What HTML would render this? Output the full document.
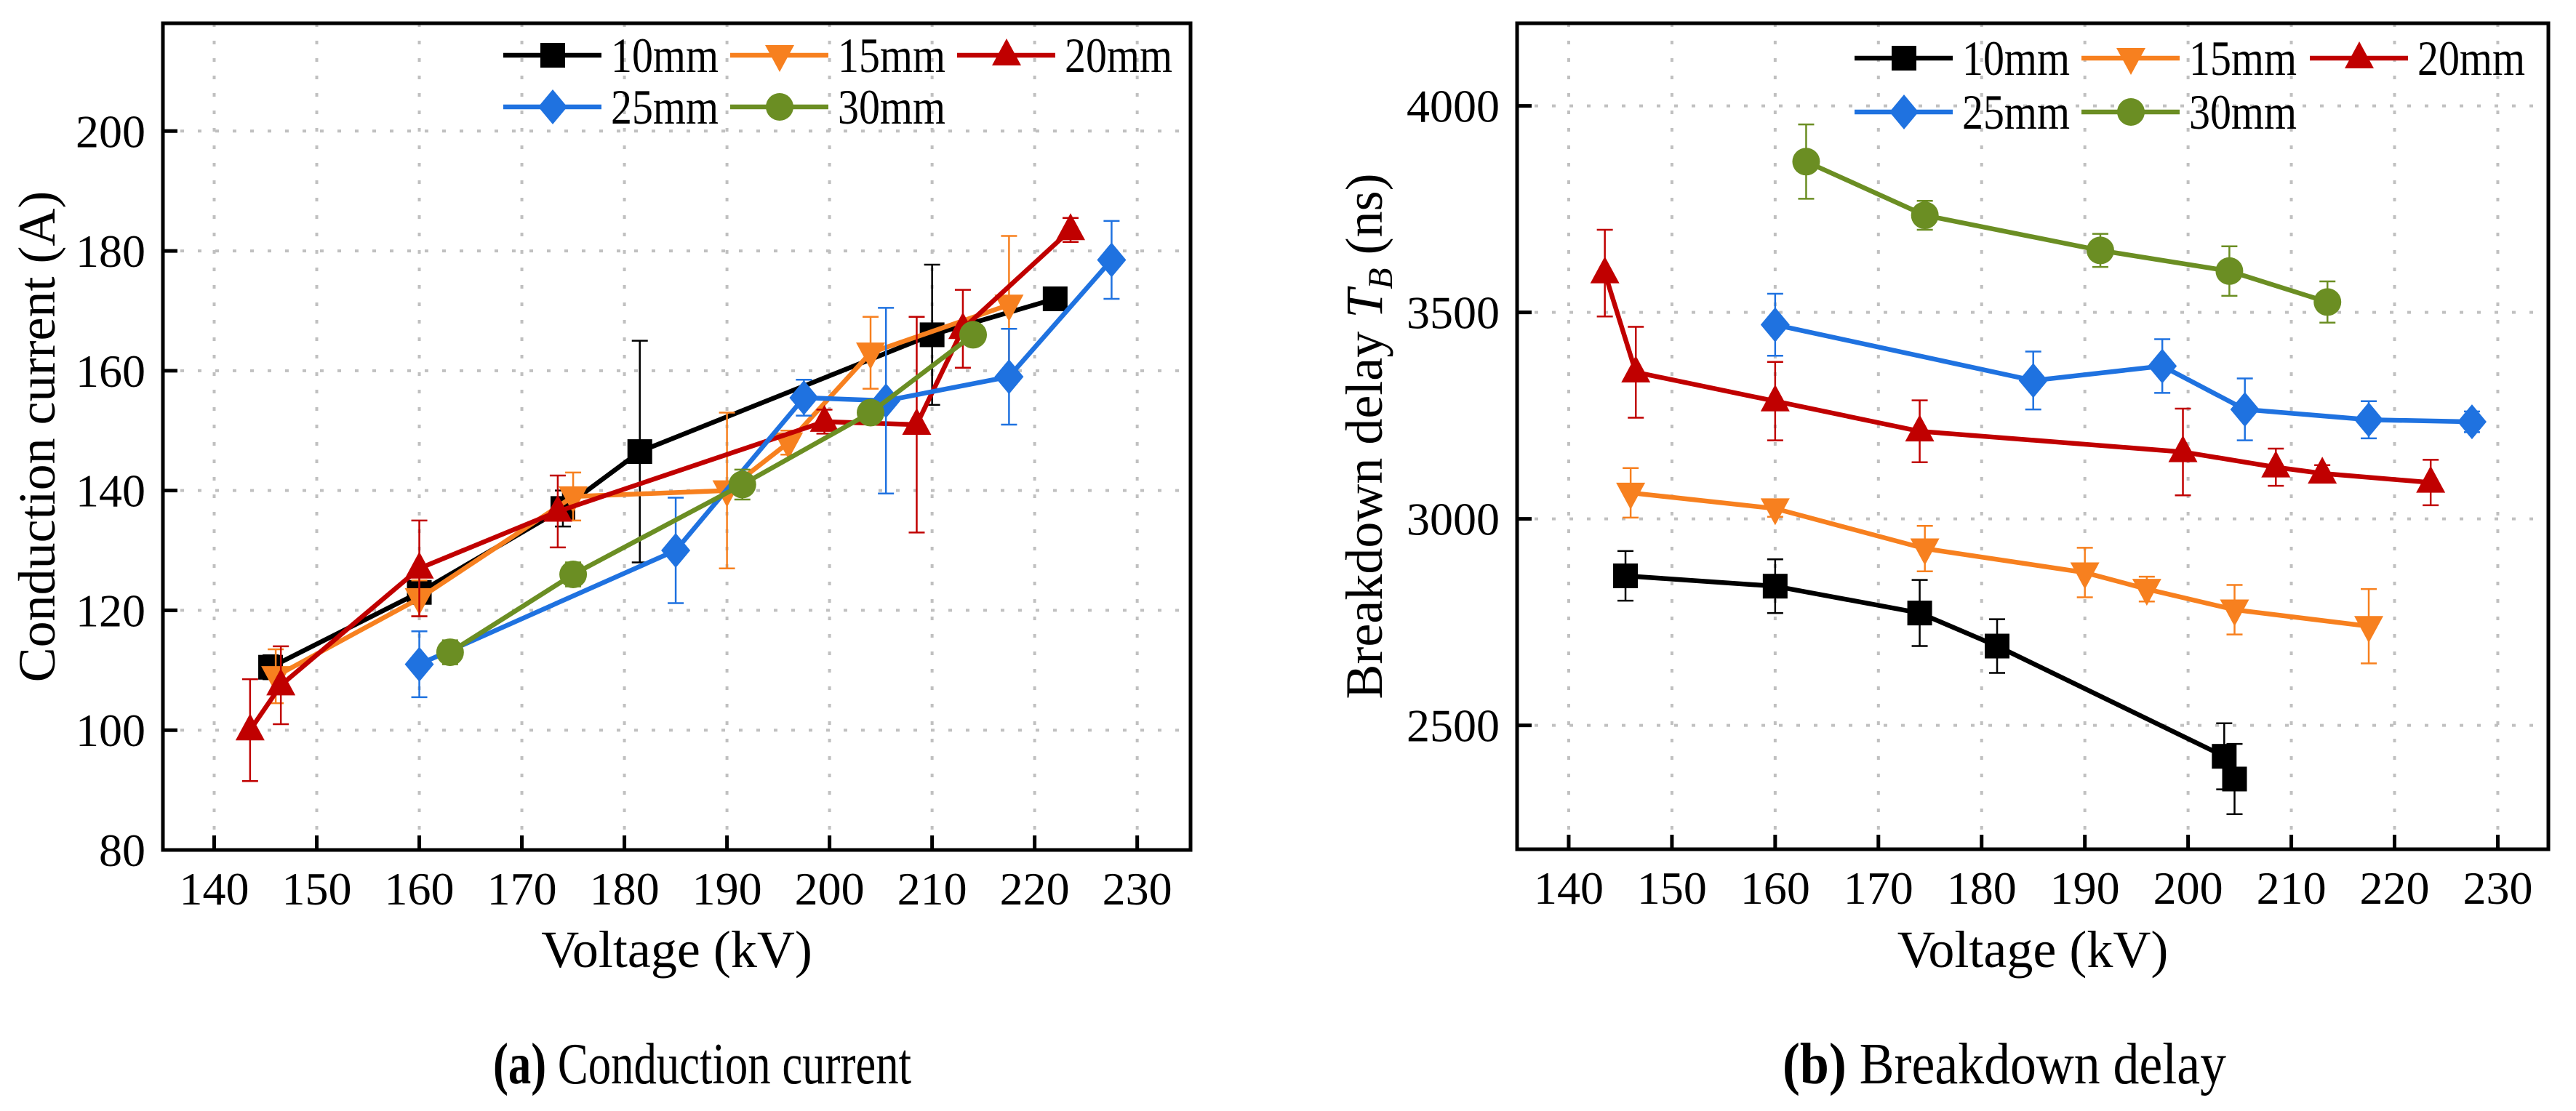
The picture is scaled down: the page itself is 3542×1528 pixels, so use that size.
<!DOCTYPE html>
<html><head><meta charset="utf-8"><style>
html,body{margin:0;padding:0;background:#fff;}
svg{display:block;font-family:"Liberation Serif",serif;}
</style></head><body>
<svg id="chart" width="3542" height="1528" viewBox="0 0 3542 1528" xmlns="http://www.w3.org/2000/svg">
<text x="678" y="1490" font-size="80" textLength="575" lengthAdjust="spacingAndGlyphs"><tspan font-weight="bold">(a)</tspan> Conduction current</text>
<text x="2451" y="1490" font-size="80" textLength="610" lengthAdjust="spacingAndGlyphs"><tspan font-weight="bold">(b)</tspan> Breakdown delay</text>
</svg>
<script>
const seriesNames = ["10mm","15mm","20mm","25mm","30mm"];
const seriesColors = ["#000000","#F7801F","#C00000","#1F72E0","#6B8E23"];
const seriesMarkers = ["square","tridown","triup","diamond","circle"];
const xTicks = [140,150,160,170,180,190,200,210,220,230];
const yTicksA = [80,100,120,140,160,180,200];
const yTicksB = [2500,3000,3500,4000];
// Panel a: conduction current
const a10x=[145.5,160,174,181.5,210,222], a10y=[110.5,123,137,146.5,166,172], a10e=[2,4,3,18.5,11.7,1];
const a15x=[146,160,175,190,196,204,217.5], a15y=[109,122,139,140,148,163,171], a15e=[4.5,3,4,13,2,6,11.5];
const a20x=[143.5,146.5,160,173.5,199.5,208.5,213,223.5], a20y=[100,107.5,127,136.5,151.5,151,167,183.5], a20e=[8.5,6.5,8,6,2,18,6.5,2];
const a25x=[160,185,197.5,205.5,217.5,227.5], a25y=[111,130,155.5,155,159,178.5], a25e=[5.5,8.8,3,15.5,8,6.5];
const a30x=[163,175,191.5,204,214], a30y=[113,126,141,153,166], a30e=[2,2,2.5,1,1];
// Panel b: breakdown delay
const b10x=[145.5,160,174,181.5,203.5,204.5], b10y=[2862,2837,2772,2692,2425,2370], b10e=[60,65,80,65,80,85];
const b15x=[146,160,174.5,190,196,204.5,217.5], b15y=[3063,3025,2928,2870,2830,2780,2740], b15e=[60,20,55,60,30,60,90];
const b20x=[143.5,146.5,160,174,199.5,208.5,213,223.5], b20y=[3595,3355,3285,3212,3162,3125,3110,3088], b20e=[105,110,95,75,105,45,20,55];
const b25x=[160,185,197.5,205.5,217.5,227.5], b25y=[3470,3335,3370,3265,3240,3235], b25e=[75,70,65,75,45,25];
const b30x=[163,174.5,191.5,204,213.5], b30y=[3865,3735,3650,3600,3525], b30e=[90,35,40,60,50];

const NS="http://www.w3.org/2000/svg";
const svg=document.getElementById('chart');
function mk(tag,attrs,parent){const e=document.createElementNS(NS,tag);for(const k in attrs)e.setAttribute(k,attrs[k]);(parent||svg).appendChild(e);return e;}
function marker(g,type,cx,cy,color){
  let e;
  if(type==="square") e=mk('rect',{x:cx-17,y:cy-17,width:34,height:34,fill:color},g);
  else if(type==="circle") e=mk('circle',{cx:cx,cy:cy,r:19,fill:color},g);
  else if(type==="diamond") e=mk('polygon',{points:`${cx},${cy-24} ${cx+20},${cy} ${cx},${cy+24} ${cx-20},${cy}`,fill:color},g);
  else if(type==="triup") e=mk('polygon',{points:`${cx},${cy-23} ${cx+20},${cy+14} ${cx-20},${cy+14}`,fill:color},g);
  else e=mk('polygon',{points:`${cx},${cy+23} ${cx+20},${cy-14} ${cx-20},${cy-14}`,fill:color},g);
  
  
}
function panel(p){
  const X=v=>p.x0+(v-p.xmin)/(p.xmax-p.xmin)*(p.x1-p.x0);
  const Y=v=>p.y1-(v-p.ymin)/(p.ymax-p.ymin)*(p.y1-p.y0);
  const g=mk('g',{});
  
  
  xTicks.forEach(t=>{const l=mk('line',{x1:X(t),x2:X(t),y1:p.y0,y2:p.y1,stroke:'#c0c0c0','stroke-width':4,'stroke-dasharray':'5 19'},g);
    });
  p.yt.forEach(t=>{const l=mk('line',{x1:p.x0,x2:p.x1,y1:Y(t),y2:Y(t),stroke:'#c0c0c0','stroke-width':4,'stroke-dasharray':'5 19'},g);
    });
  xTicks.forEach(t=>{mk('line',{x1:X(t),x2:X(t),y1:p.y1,y2:p.y1-20,stroke:'#000','stroke-width':5},g);
    const tx=mk('text',{x:X(t),y:p.y1+75,'font-size':64,'text-anchor':'middle'},g);tx.textContent=t;
    });
  p.yt.forEach(t=>{mk('line',{x1:p.x0,x2:p.x0+20,y1:Y(t),y2:Y(t),stroke:'#000','stroke-width':5},g);
    const tx=mk('text',{x:p.x0-24,y:Y(t)+22,'font-size':64,'text-anchor':'end'},g);tx.textContent=t;
    });
  p.data.forEach((d,i)=>{
    const c=seriesColors[i];
    const sg=mk('g',{},g);
    
    
    mk('polyline',{points:d[0].map((x,j)=>X(x)+','+Y(d[1][j])).join(' '),fill:'none',stroke:c,'stroke-width':6.5},sg);
    d[0].forEach((x,j)=>{
      const cx=X(x),yt=Y(d[1][j]+d[2][j]),yb=Y(d[1][j]-d[2][j]);
      const eb=mk('path',{d:`M${cx},${yt}V${yb}M${cx-11},${yt}H${cx+11}M${cx-11},${yb}H${cx+11}`,stroke:c,'stroke-width':2.5,fill:'none'},sg);
      
    });
    d[0].forEach((x,j)=>marker(sg,seriesMarkers[i],X(x),Y(d[1][j]),c));
  });
  mk('rect',{x:p.x0,y:p.y0,width:p.x1-p.x0,height:p.y1-p.y0,fill:'none',stroke:'#000','stroke-width':5},g);
  const xt=mk('text',{x:(p.x0+p.x1)/2,y:1330,'font-size':72,'text-anchor':'middle'},g);xt.textContent='Voltage (kV)';
  
  const yt=mk('text',{x:0,y:0,'font-size':72,'text-anchor':'middle',transform:`translate(${p.ytx},${(p.y0+p.y1)/2}) rotate(-90)`},g);
  yt.innerHTML=p.ytitle;
  
  seriesNames.forEach((n,i)=>{
    const col=i<3?i:i-3,row=i<3?0:1;
    const lx=p.lx[col],ly=p.ly[row];
    const lg=mk('g',{},g);
    
    
    mk('line',{x1:lx,x2:lx+135,y1:ly,y2:ly,stroke:seriesColors[i],'stroke-width':6.5},lg);
    marker(lg,seriesMarkers[i],lx+68,ly,seriesColors[i]);
    const t=mk('text',{x:lx+148,y:ly+23,'font-size':68,textLength:148,lengthAdjust:'spacingAndGlyphs'},lg);t.textContent=n;
  });
}
panel({name:'panel-a-conduction-current',x0:224,x1:1637,y0:32,y1:1169,xmin:135,xmax:235.2,ymin:80,ymax:218,yt:yTicksA,
  data:[[a10x,a10y,a10e],[a15x,a15y,a15e],[a20x,a20y,a20e],[a25x,a25y,a25e],[a30x,a30y,a30e]],
  ytx:75,ytitle:'Conduction current (A)',lx:[692,1004,1316],ly:[76,147]});
panel({name:'panel-b-breakdown-delay',x0:2086,x1:3504,y0:32,y1:1168,xmin:135,xmax:234.9,ymin:2200,ymax:4200,yt:yTicksB,
  data:[[b10x,b10y,b10e],[b15x,b15y,b15e],[b20x,b20y,b20e],[b25x,b25y,b25e],[b30x,b30y,b30e]],
  ytx:1900,ytitle:'Breakdown delay <tspan font-style="italic">T</tspan><tspan font-style="italic" font-size="48" dy="14">B</tspan><tspan dy="-14"> (ns)</tspan>',lx:[2550,2862,3176],ly:[80,154]});
</script>
</body></html>
